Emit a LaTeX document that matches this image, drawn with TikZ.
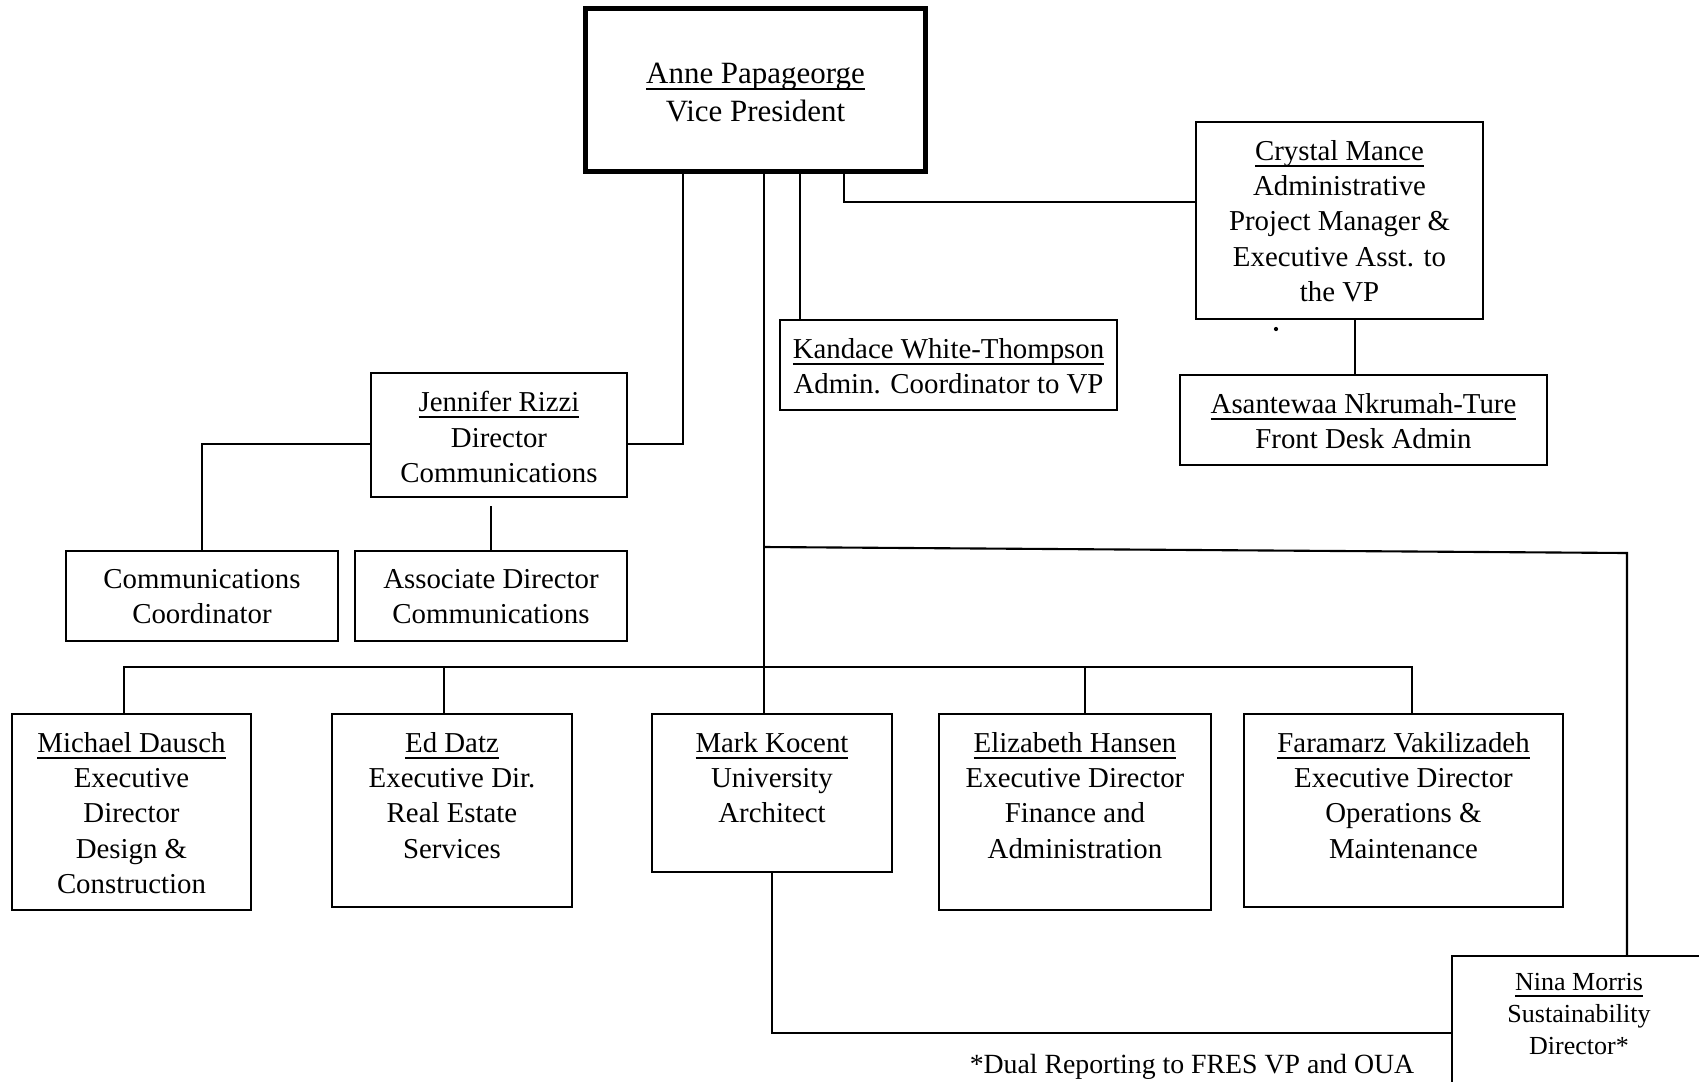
\documentclass[tikz,border=0pt]{standalone}
\usepackage{fontspec}
\setmainfont{Liberation Serif}
\usetikzlibrary{positioning}
\newsavebox{\nmbox}
\newcommand{\nm}[1]{\sbox{\nmbox}{#1}\rlap{\rule[-1.7pt]{\wd\nmbox}{0.45pt}}\usebox{\nmbox}}
\tikzset{
  unit/.style={draw, line width=0.6pt, inner sep=0pt},
  txt/.style={align=center, inner sep=0pt, font=\fontsize{8.2}{10}\selectfont},
  link/.style={line width=0.6pt}
}
\begin{document}
\begin{tikzpicture}[x=0.01cm,y=-0.01cm]
\useasboundingbox (0,0) rectangle (1699,1081);

% boxes
\node[unit, line width=1.4pt, minimum width=3.39cm, minimum height=1.62cm] (vp) at (755.5,90) {};
\node[unit, minimum width=2.87cm, minimum height=1.97cm] (crystal) at (1339.5,220.5) {};
\node[unit, minimum width=3.37cm, minimum height=0.9cm] (kandace) at (948.5,365) {};
\node[unit, minimum width=3.67cm, minimum height=0.9cm] (asante) at (1363.5,420) {};
\node[unit, minimum width=2.56cm, minimum height=1.24cm] (jennifer) at (499,435) {};
\node[unit, minimum width=2.72cm, minimum height=0.9cm] (ccoord) at (202,596) {};
\node[unit, minimum width=2.72cm, minimum height=0.9cm] (assoc) at (491,596) {};
\node[unit, minimum width=2.39cm, minimum height=1.96cm] (michael) at (131.5,812) {};
\node[unit, minimum width=2.40cm, minimum height=1.93cm] (ed) at (452,810.5) {};
\node[unit, minimum width=2.40cm, minimum height=1.58cm] (mark) at (772,793) {};
\node[unit, minimum width=2.72cm, minimum height=1.96cm] (eliz) at (1075,812) {};
\node[unit, minimum width=3.19cm, minimum height=1.93cm] (faram) at (1403.5,810.5) {};
\node[unit, minimum width=2.54cm, minimum height=2.0cm] (nina) at (1579,1056) {};

% texts
\node[txt, font=\fontsize{8.8}{10.8}\selectfont, below=0.56cm of vp.north] (vpt) {\nm{Anne Papageorge}\\Vice President};
\node[txt, below=0.19cm of crystal.north] (crystalt) {\nm{Crystal Mance}\\Administrative\\Project Manager \&\\Executive Asst. to\\the VP};
\node[txt, below=0.19cm of kandace.north] (kandacet) {\nm{Kandace White-Thompson}\\Admin. Coordinator to VP};
\node[txt, below=0.19cm of asante.north] (asantet) {\nm{Asantewaa Nkrumah-Ture}\\Front Desk Admin};
\node[txt, below=0.19cm of jennifer.north] (jennifert) {\nm{Jennifer Rizzi}\\Director\\Communications};
\node[txt, below=0.19cm of ccoord.north] (ccoordt) {Communications\\Coordinator};
\node[txt, below=0.19cm of assoc.north] (assoct) {Associate Director\\Communications};
\node[txt, below=0.19cm of michael.north] (michaelt) {\nm{Michael Dausch}\\Executive\\Director\\Design \&\\Construction};
\node[txt, below=0.19cm of ed.north] (edt) {\nm{Ed Datz}\\Executive Dir.\\Real Estate\\Services};
\node[txt, below=0.19cm of mark.north] (markt) {\nm{Mark Kocent}\\University\\Architect};
\node[txt, below=0.19cm of eliz.north] (elizt) {\nm{Elizabeth Hansen}\\Executive Director\\Finance and\\Administration};
\node[txt, below=0.19cm of faram.north] (faramt) {\nm{Faramarz Vakilizadeh}\\Executive Director\\Operations \&\\Maintenance};
\node[txt, font=\fontsize{7.4}{9.1}\selectfont, below=0.18cm of nina.north] (ninat) {\nm{Nina Morris}\\Sustainability\\Director*};
\node[txt, font=\fontsize{7.9}{10}\selectfont] (note) at (1192,1067) {*Dual Reporting to FRES VP and OUA};

% bends and junctions
\coordinate (jr) at (683,444);
\coordinate (spine) at (764,547);
\coordinate (kv) at (800,0);
\coordinate (cm) at (844,202);
\coordinate (av) at (1355,0);
\coordinate (nr) at (1627,553);
\coordinate (bl) at (124,667);
\coordinate (b2) at (444,667);
\coordinate (b4) at (1085,667);
\coordinate (br) at (1412,667);
\coordinate (mn) at (771,1033);

% connectors
\draw[link] (vp.south -| jr) |- (jennifer.east |- jr);
\draw[link] (jennifer.west |- jr) -| (ccoord.north);
\draw[link] (assoc.north) -- ++(0,-44);
\draw[link] (vp.south -| spine) -- (mark.north -| spine);
\draw[link] (vp.south -| kv) -- (kandace.north -| kv);
\draw[link] (vp.south -| cm) |- (crystal.west |- cm);
\draw[link] (crystal.south -| av) -- (asante.north -| av);
\draw[link] (spine) -- (nr) -- (nina.north -| nr);
\draw[link] (michael.north -| bl) |- (br) -- (faram.north -| br);
\draw[link] (b2) -- (ed.north -| b2);
\draw[link] (b4) -- (eliz.north -| b4);
\draw[link] (mark.south) |- (nina.west |- mn);
\fill (1276,329) circle[radius=0.6pt];
\end{tikzpicture}
\end{document}
